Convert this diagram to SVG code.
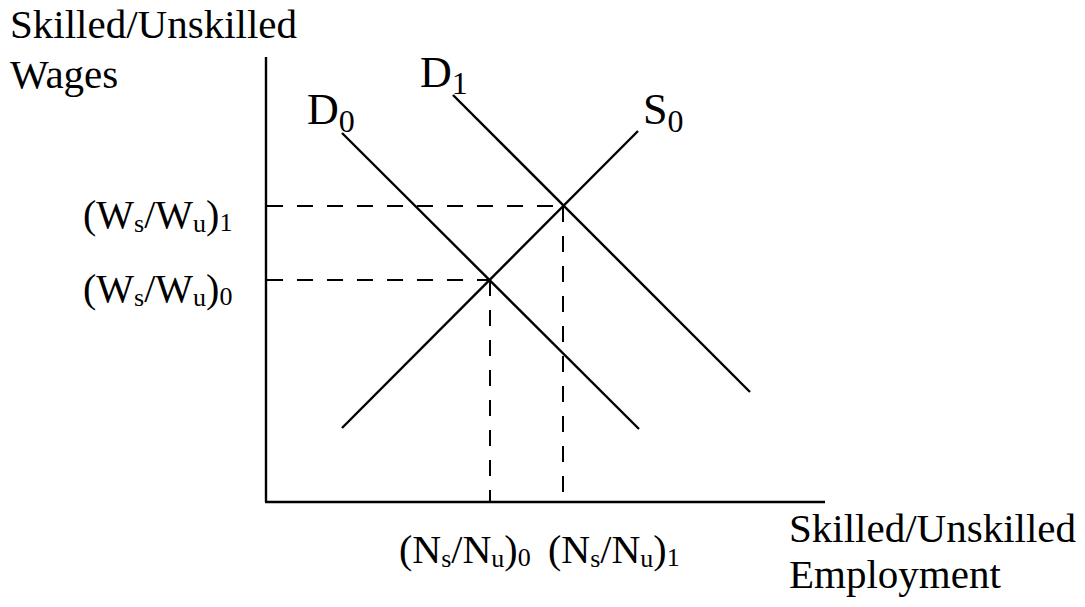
<svg xmlns="http://www.w3.org/2000/svg" width="1085" height="607" viewBox="0 0 1085 607">
<style>
text{font-family:"Liberation Serif","Times New Roman",serif;fill:#000}
.lbl{font-size:41px}
.cur{font-size:44px}
.tk{font-size:40px}
.solid{stroke:#000;stroke-width:2.4;fill:none}
.dash{stroke:#000;stroke-width:2;fill:none;stroke-dasharray:16 14}
</style>
<rect width="1085" height="607" fill="#fff"/>
<g id="axes">
<line class="solid" x1="266" y1="57" x2="266" y2="502"/>
<line class="solid" x1="265" y1="502" x2="825" y2="502"/>
</g>
<g id="connectors">
<line class="dash" x1="267" y1="206" x2="563" y2="206"/>
<line class="dash" x1="267" y1="280" x2="490" y2="280"/>
<line class="dash" x1="563" y1="206" x2="563" y2="502"/>
<line class="dash" x1="490" y1="280" x2="490" y2="502"/>
</g>
<g id="curve-D0">
<line class="solid" x1="342" y1="133" x2="639" y2="429"/>
<text class="cur" x="307" y="124">D<tspan font-size="32" dy="8">0</tspan></text>
</g>
<g id="curve-D1">
<line class="solid" x1="453" y1="95" x2="750" y2="392"/>
<text class="cur" x="420" y="87">D<tspan font-size="32" dy="7">1</tspan></text>
</g>
<g id="curve-S0">
<line class="solid" x1="342" y1="428" x2="638" y2="131"/>
<text class="cur" x="643" y="124">S<tspan font-size="32" dy="8">0</tspan></text>
</g>
<g id="y-axis-label">
<text class="lbl" x="10" y="38">Skilled/Unskilled</text>
<text class="lbl" x="10" y="88">Wages</text>
</g>
<g id="x-axis-label">
<text class="lbl" x="789" y="542">Skilled/Unskilled</text>
<text class="lbl" x="789" y="588">Employment</text>
</g>
<g id="tick-W1">
<text class="tk" x="83" y="228">(W<tspan font-size="26" dy="4">s</tspan><tspan dy="-4">/W</tspan><tspan font-size="26" dy="4">u</tspan><tspan dy="-4">)</tspan><tspan font-size="26" dy="3">1</tspan></text>
</g>
<g id="tick-W0">
<text class="tk" x="83" y="302">(W<tspan font-size="26" dy="4">s</tspan><tspan dy="-4">/W</tspan><tspan font-size="26" dy="4">u</tspan><tspan dy="-4">)</tspan><tspan font-size="26" dy="3">0</tspan></text>
</g>
<g id="tick-N0">
<text class="tk" x="399" y="563">(N<tspan font-size="26" dy="4">s</tspan><tspan dy="-4">/N</tspan><tspan font-size="26" dy="4">u</tspan><tspan dy="-4">)</tspan><tspan font-size="26" dy="3">0</tspan></text>
</g>
<g id="tick-N1">
<text class="tk" x="548" y="563">(N<tspan font-size="26" dy="4">s</tspan><tspan dy="-4">/N</tspan><tspan font-size="26" dy="4">u</tspan><tspan dy="-4">)</tspan><tspan font-size="26" dy="3">1</tspan></text>
</g>
</svg>
